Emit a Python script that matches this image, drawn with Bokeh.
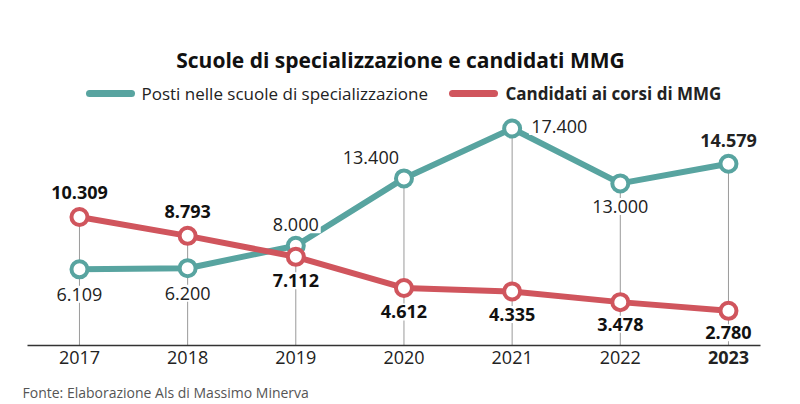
from bokeh.plotting import figure
from bokeh.models import Range1d
from bokeh.core.properties import value
from bokeh.embed import file_html
from bokeh.resources import INLINE

# ---- data ----
years = [2017, 2018, 2019, 2020, 2021, 2022, 2023]
year_labels = ["2017", "2018", "2019", "2020", "2021", "2022", "2023"]
posti = [6109, 6200, 8000, 13400, 17400, 13000, 14579]
posti_labels = ["6.109", "6.200", "8.000", "13.400", "17.400", "13.000", "14.579"]
candidati = [10309, 8793, 7112, 4612, 4335, 3478, 2780]
candidati_labels = ["10.309", "8.793", "7.112", "4.612", "4.335", "3.478", "2.780"]
title = "Scuole di specializzazione e candidati MMG"
series_names = ["Posti nelle scuole di specializzazione", "Candidati ai corsi di MMG"]
source = "Fonte: Elaborazione Als di Massimo Minerva"

TEAL = "#58a4a0"
RED = "#d0555d"
FONT = value("Open Sans")

W, H = 800, 404
X0, X1 = 2016.27, 2023.666
Y0, Y1 = -4732, 27669

def dx(px):
    return X0 + px / W * (X1 - X0)

def dy(py):
    return Y1 - py / H * (Y1 - Y0)

p = figure(width=W, height=H, x_range=Range1d(X0, X1), y_range=Range1d(Y0, Y1),
           output_backend="svg", toolbar_location=None, min_border=0,
           x_axis_type=None, y_axis_type=None)
p.grid.visible = False
p.outline_line_color = None
p.background_fill_color = "white"

# drop lines
tops = [max(a, b) for a, b in zip(posti, candidati)]
p.segment(x0=years, y0=tops, x1=years, y1=[0] * len(years), line_color="#9a9a9a", line_width=1)

# axis line
p.segment(x0=[dx(27)], y0=[0], x1=[dx(760)], y1=[0], line_color="#333333", line_width=1.5)

# series
p.line(years, posti, line_color=TEAL, line_width=6, line_join="round")
p.scatter(years, posti, size=16, fill_color="white", line_color=TEAL, line_width=4)
p.line(years, candidati, line_color=RED, line_width=6, line_join="round")
p.scatter(years, candidati, size=16, fill_color="white", line_color=RED, line_width=4)

# value labels
t_dx = [0, 0, 0, -3, 17, 0, 0]
t_dy = [25, 25, -21, -21, -2, 23, -23]
t_align = ["center", "center", "center", "right", "left", "center", "center"]
t_style = ["normal"] * 6 + ["bold"]
p.text(x=years, y=posti, text=posti_labels, x_offset=t_dx, y_offset=t_dy,
       text_align=t_align, text_baseline="middle", text_font=FONT,
       text_font_size="18px", text_font_style=t_style, text_color="#222222",
       background_fill_color="white", padding=2)

r_dy = [-24, -24, 24, 24, 23, 22, 22]
p.text(x=years, y=candidati, text=candidati_labels, y_offset=r_dy,
       text_align="center", text_baseline="middle", text_font=FONT,
       text_font_size="18px", text_font_style="bold", text_color="#111111",
       background_fill_color="white", padding=2)

# tick labels
tick_style = ["normal"] * 6 + ["bold"]
p.text(x=years, y=[0] * len(years), text=year_labels, y_offset=12,
       text_align="center", text_baseline="middle", text_font=FONT,
       text_font_size="18px", text_font_style=tick_style, text_color="#222222")

# title
p.text(x=[dx(400)], y=[dy(59)], text=[title], text_align="center", text_baseline="middle",
       text_font=FONT, text_font_size="21px", text_font_style="bold", text_color="#111111")

# legend
p.segment(x0=[dx(89), dx(452)], y0=[dy(93), dy(93)], x1=[dx(131), dx(494)], y1=[dy(93), dy(93)],
          line_color=[TEAL, RED], line_width=7, line_cap="round")
p.text(x=[dx(141), dx(505)], y=[dy(93), dy(93)], text=series_names,
       text_align="left", text_baseline="middle", text_font=FONT, text_font_size="17px",
       text_font_style=["normal", "bold"], text_color="#222222")

# source
p.text(x=[dx(22)], y=[dy(392)], text=[source], text_align="left", text_baseline="middle",
       text_font=FONT, text_font_size="14px", text_color="#555555")

open("out.html", "w").write(file_html(p, INLINE))
